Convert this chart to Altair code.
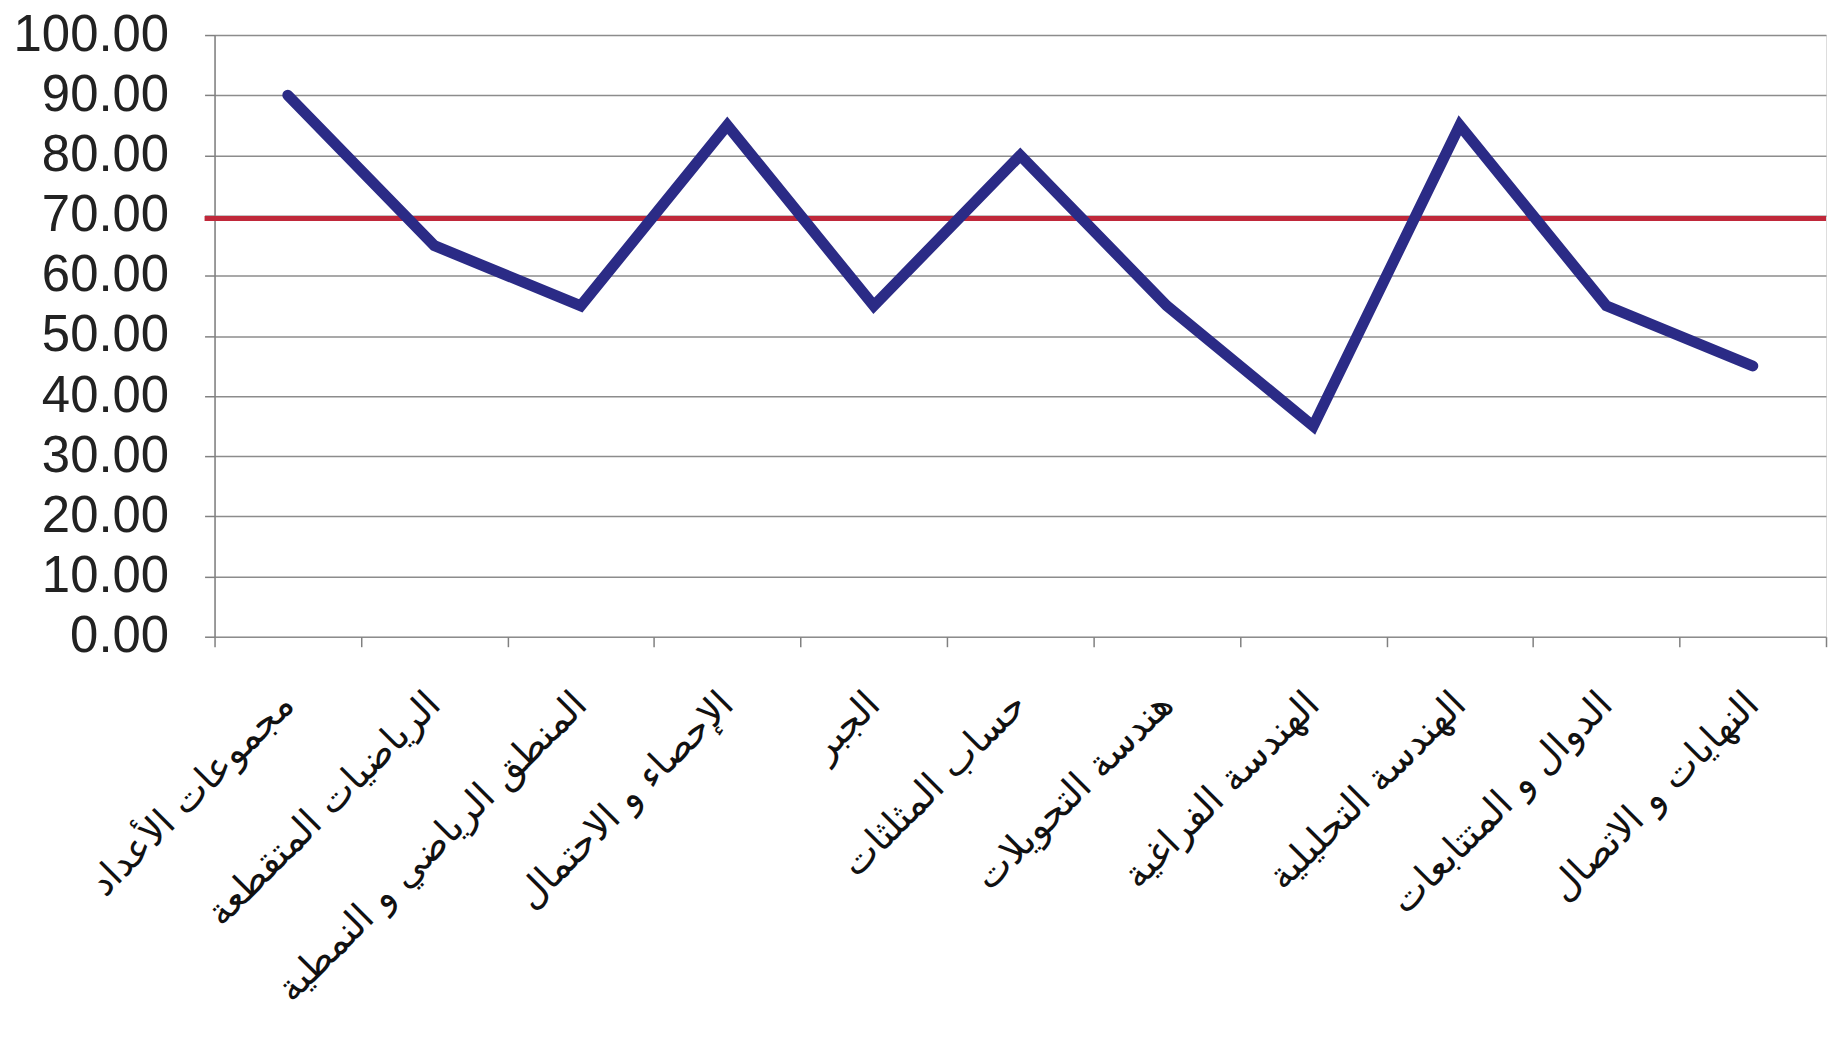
import altair as alt
import pandas as pd

categories = [
    "مجموعات الأعداد",
    "الرياضيات المتقطعة",
    "المنطق الرياضي و النمطية",
    "الإحصاء و الاحتمال",
    "الجبر",
    "حساب المثلثات",
    "هندسة التحويلات",
    "الهندسة الفراغية",
    "الهندسة التحليلية",
    "الدوال و المتتابعات",
    "النهايات و الاتصال",
]
values = [90, 65, 55, 85, 55, 80, 55, 35, 85, 55, 45]
threshold = [69.5]
y_ticks = [0, 10, 20, 30, 40, 50, 60, 70, 80, 90, 100]

W = 1615
H = 603

df = pd.DataFrame({"cat": categories, "val": values})
df_th = pd.DataFrame({"th": threshold})

x_enc = alt.X(
    "cat:N",
    sort=categories,
    bandPosition=0.5,
    scale=alt.Scale(type="band", paddingInner=0, paddingOuter=0),
    axis=alt.Axis(
        title=None,
        labelAngle=315,
        labelAlign="right",
        labelBaseline="middle",
        labelPadding=52,
        labelFont="DejaVu Sans",
        labelFontSize=38,
        labelColor="#111111",
        labelLimit=0,
        tickBand="extent",
        tickSize=10,
        tickColor="#808080",
        tickWidth=1.5,
        domain=False,
        grid=False,
    ),
)

y_enc = alt.Y(
    "val:Q",
    scale=alt.Scale(domain=[0, 100], nice=False, zero=True),
    axis=alt.Axis(
        title=None,
        values=y_ticks,
        format=".2f",
        labelFont="Liberation Sans",
        labelFontSize=51,
        labelColor="#222222",
        labelPadding=36,
        tickSize=10,
        tickColor="#808080",
        tickWidth=1.5,
        domainColor="#808080",
        domainWidth=1.5,
        grid=True,
        gridColor="#8c8c8c",
        gridWidth=1.5,
    ),
)

line = alt.Chart(df).mark_line(
    color="#2b2b86", strokeWidth=11, strokeCap="round", strokeJoin="miter"
).encode(x=x_enc, y=y_enc)

rule = alt.Chart(df_th).mark_rule(color="#c0283a", strokeWidth=5).encode(
    y=alt.Y("th:Q", scale=alt.Scale(domain=[0, 100])),
    x=alt.value(-10),
    x2=alt.value(W),
)

chart = (
    alt.layer(rule, line)
    .properties(width=W, height=H, padding={"left": 5, "top": 0, "right": 0, "bottom": 0})
    .configure_view(stroke=None)
    .configure(background="white")
)

chart.save("out.html", embed_options={"renderer": "svg", "actions": False})
